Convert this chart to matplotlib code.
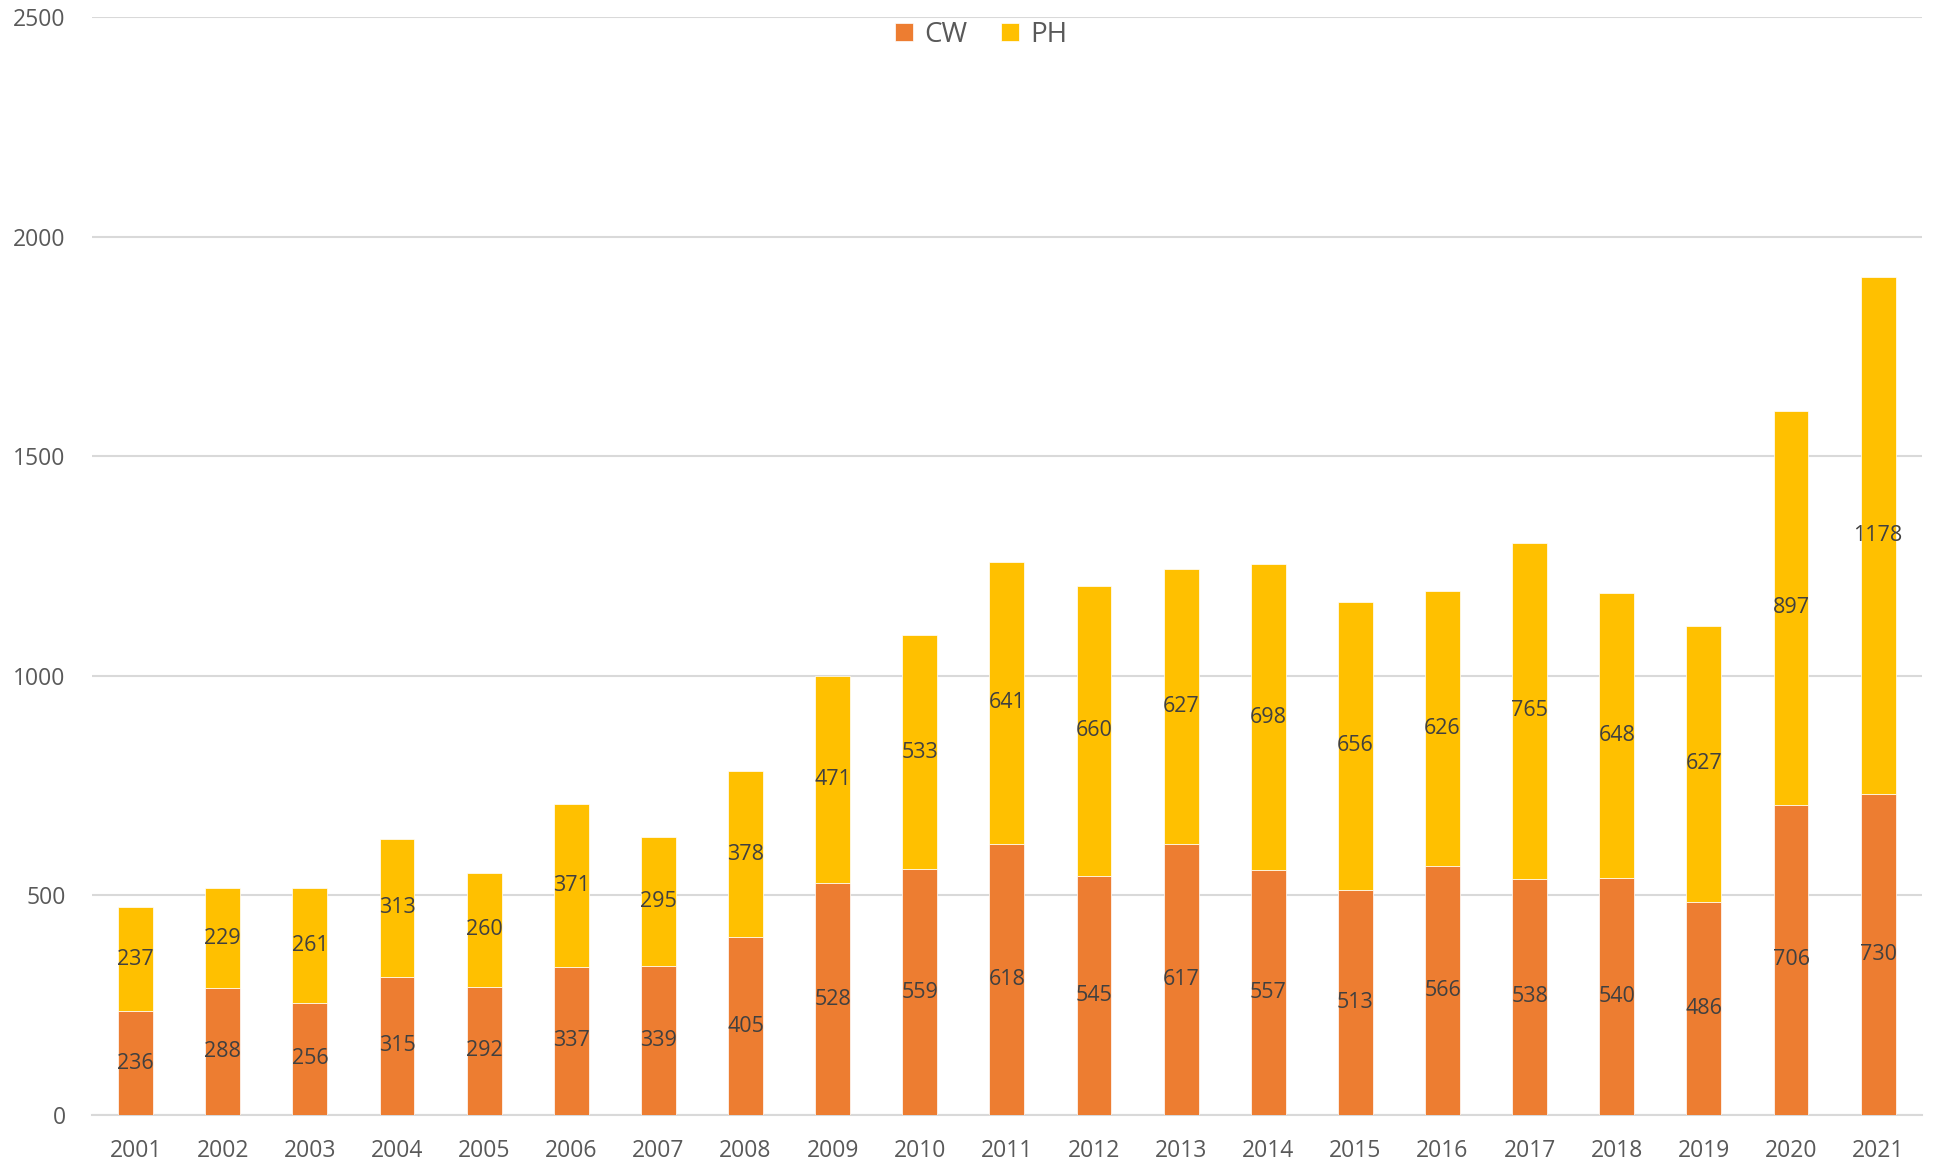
import numpy as np
import matplotlib.pyplot as plt

years = [str(y) for y in range(2001, 2022)]
cw = [236, 288, 256, 315, 292, 337, 339, 405, 528, 559, 618, 545, 617, 557, 513, 566, 538, 540, 486, 706, 730]
ph = [237, 229, 261, 313, 260, 371, 295, 378, 471, 533, 641, 660, 627, 698, 656, 626, 765, 648, 627, 897, 1178]

plt.rcParams['font.family'] = ['Open Sans', 'DejaVu Sans']

fig = plt.figure(figsize=(19.47, 11.67), dpi=100)
ax = fig.add_axes([0.0473, 0.0446, 0.9397, 0.9408])

x = np.arange(len(years))
b1 = ax.bar(x, cw, width=0.4, color='#ED7D31', edgecolor='white', linewidth=0.5, label='CW', zorder=3)
b2 = ax.bar(x, ph, width=0.4, bottom=cw, color='#FFC000', edgecolor='white', linewidth=0.5, label='PH', zorder=3)
ax.bar_label(b1, labels=[str(v) for v in cw], label_type='center', fontsize=15.5, color='#404040')
ax.bar_label(b2, labels=[str(v) for v in ph], label_type='center', fontsize=15.5, color='#404040')

ax.set_xlim(-0.5, len(years) - 0.5)
ax.set_ylim(0, 2500)
ax.set_yticks(range(0, 2501, 500))
ax.set_xticks(x)
ax.set_xticklabels(years)
ax.tick_params(axis='both', length=0, labelsize=16.5, labelcolor='#595959')
ax.tick_params(axis='x', pad=17)
ax.tick_params(axis='y', pad=19)
ax.yaxis.grid(True, color='#D9D9D9', linewidth=1.5, zorder=0)
ax.set_axisbelow(True)
for s in ['top', 'right', 'left']:
    ax.spines[s].set_visible(False)
ax.spines['bottom'].set_color('#D9D9D9')
ax.spines['bottom'].set_linewidth(1.5)

leg = ax.legend(loc='center', bbox_to_anchor=(0.486, 0.984), ncol=2, frameon=False,
                fontsize=20, handlelength=0.65, handleheight=0.65, columnspacing=1.2, handletextpad=0.4)
for t in leg.get_texts():
    t.set_color('#595959')

fig.savefig('out.png', dpi=100)
